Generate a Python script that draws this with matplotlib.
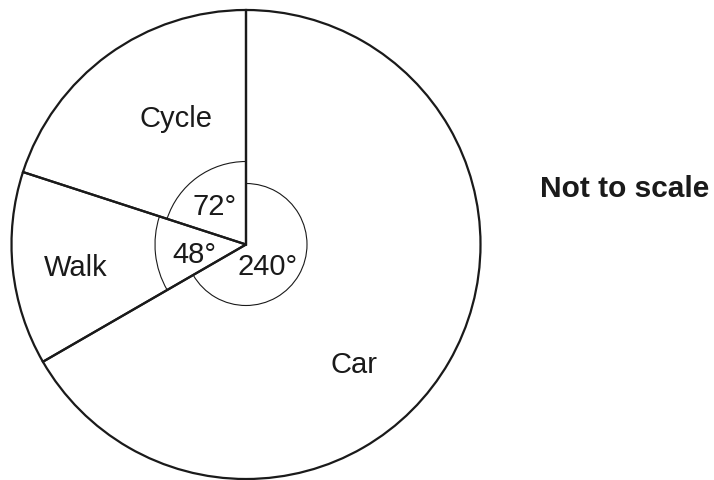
import numpy as np
import matplotlib.pyplot as plt
from matplotlib.patches import Arc

plt.rcParams['font.family'] = ['Liberation Sans', 'DejaVu Sans']

modes = ['Cycle', 'Walk', 'Car']
angles = [72, 48, 240]
angle_labels = ['72°', '48°', '240°']

W, H = 714, 480
fig = plt.figure(figsize=(W / 100, H / 100), dpi=100)
ax = fig.add_axes([0, 0, 1, 1])

cx, cy = 246, H - 244.5
R = 234.5

wedges, _ = ax.pie(angles, startangle=90, counterclock=True, center=(cx, cy), radius=R,
                   wedgeprops=dict(fill=False, edgecolor='#1a1a1a', linewidth=1.6))

# small angle arcs round the centre
arc_r = [83, 91, 61]
for w, r in zip(wedges, arc_r):
    ax.add_patch(Arc((cx, cy), 2 * r, 2 * r, theta1=w.theta1, theta2=w.theta2,
                     color='#1a1a1a', linewidth=0.8))

# labels (pixel positions from the top-left)
mode_pos = [(176, 119), (76, 268), (354, 365)]
for name, (x, y) in zip(modes, mode_pos):
    ax.text(x, H - y, name, fontsize=21, ha='center', va='center', color='#1a1a1a')

ang_pos = [(215, 207), (194, 255), (268, 267)]
for lab, (x, y) in zip(angle_labels, ang_pos):
    ax.text(x, H - y, lab, fontsize=21, ha='center', va='center', color='#1a1a1a')

ax.text(625, H - 189, 'Not to scale', fontsize=21.5, fontweight='bold',
        ha='center', va='center', color='#1a1a1a')

ax.set_xlim(0, W)
ax.set_ylim(0, H)
ax.set_aspect('equal')
ax.axis('off')

fig.savefig('out.png', dpi=100, facecolor='white')
